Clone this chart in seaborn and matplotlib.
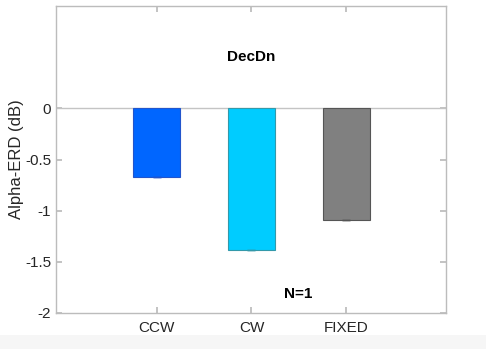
import matplotlib
matplotlib.use("Agg")
import matplotlib.pyplot as plt
import seaborn as sns
import pandas as pd
from matplotlib.patches import Rectangle

# Alpha-ERD per rotation condition
conditions = ["CCW", "CW", "FIXED"]
erd_values = [-0.67, -1.38, -1.09]
bar_colors = ["#0066ff", "#00ccff", "#808080"]
edge_colors = ["#2255cc", "#3399aa", "#555555"]
y_ticks = [-2, -1.5, -1, -0.5, 0]
y_tick_labels = ["-2", "-1.5", "-1", "-0.5", "0"]
panel_title = "DecDn"
sample_note = "N=1"

sns.set_theme(style="white")
plt.rcParams["font.family"] = ["Liberation Sans", "DejaVu Sans"]

df = pd.DataFrame({"condition": conditions, "erd": erd_values})

fig = plt.figure(figsize=(4.86, 3.49), dpi=100)
fig.patch.set_facecolor("white")
# light window strip along the bottom edge
fig.patches.append(Rectangle((0, 0), 1, 14 / 349, transform=fig.transFigure,
                             facecolor="#f6f6f6", edgecolor="none", zorder=0))
ax = fig.add_axes([56 / 486, 36 / 349, 390 / 486, 307 / 349])

sns.barplot(data=df, x="condition", y="erd", hue="condition",
            palette=dict(zip(conditions, bar_colors)), width=0.5,
            saturation=1, legend=False, errorbar=None, ax=ax, zorder=2)
for patch, ec in zip(ax.patches, edge_colors):
    patch.set_edgecolor(ec)
    patch.set_linewidth(0.8)

# zero-length error bars (single subject)
for i, (v, ec) in enumerate(zip(erd_values, edge_colors)):
    ax.errorbar(i, v, yerr=0, color=ec, capsize=3, capthick=1, lw=1, zorder=3)

ax.axhline(0, color="#c4c4c4", lw=1, zorder=1)

ax.set_xlim(-1.06, 3.05)
ax.set_ylim(-2, 1)
ax.set_yticks(y_ticks)
ax.set_yticklabels(y_tick_labels)
ax.set_xlabel("")
ax.set_ylabel("Alpha-ERD (dB)", fontsize=12, color="#262626", labelpad=0.5)

for s in ax.spines.values():
    s.set_color("#bcbcbc")
    s.set_linewidth(1)
ax.tick_params(axis="both", direction="in", length=4, color="#bcbcbc",
               labelsize=11, labelcolor="#262626",
               top=True, right=True, bottom=True, left=True)
ax.tick_params(axis="x", pad=6)

ax.text(1, 0.5, panel_title, ha="center", va="center",
        fontsize=11, fontweight="bold", color="black")
ax.text(1.49, -1.81, sample_note, ha="center", va="center",
        fontsize=11, fontweight="bold", color="black")

fig.savefig("out.png", dpi=100)
